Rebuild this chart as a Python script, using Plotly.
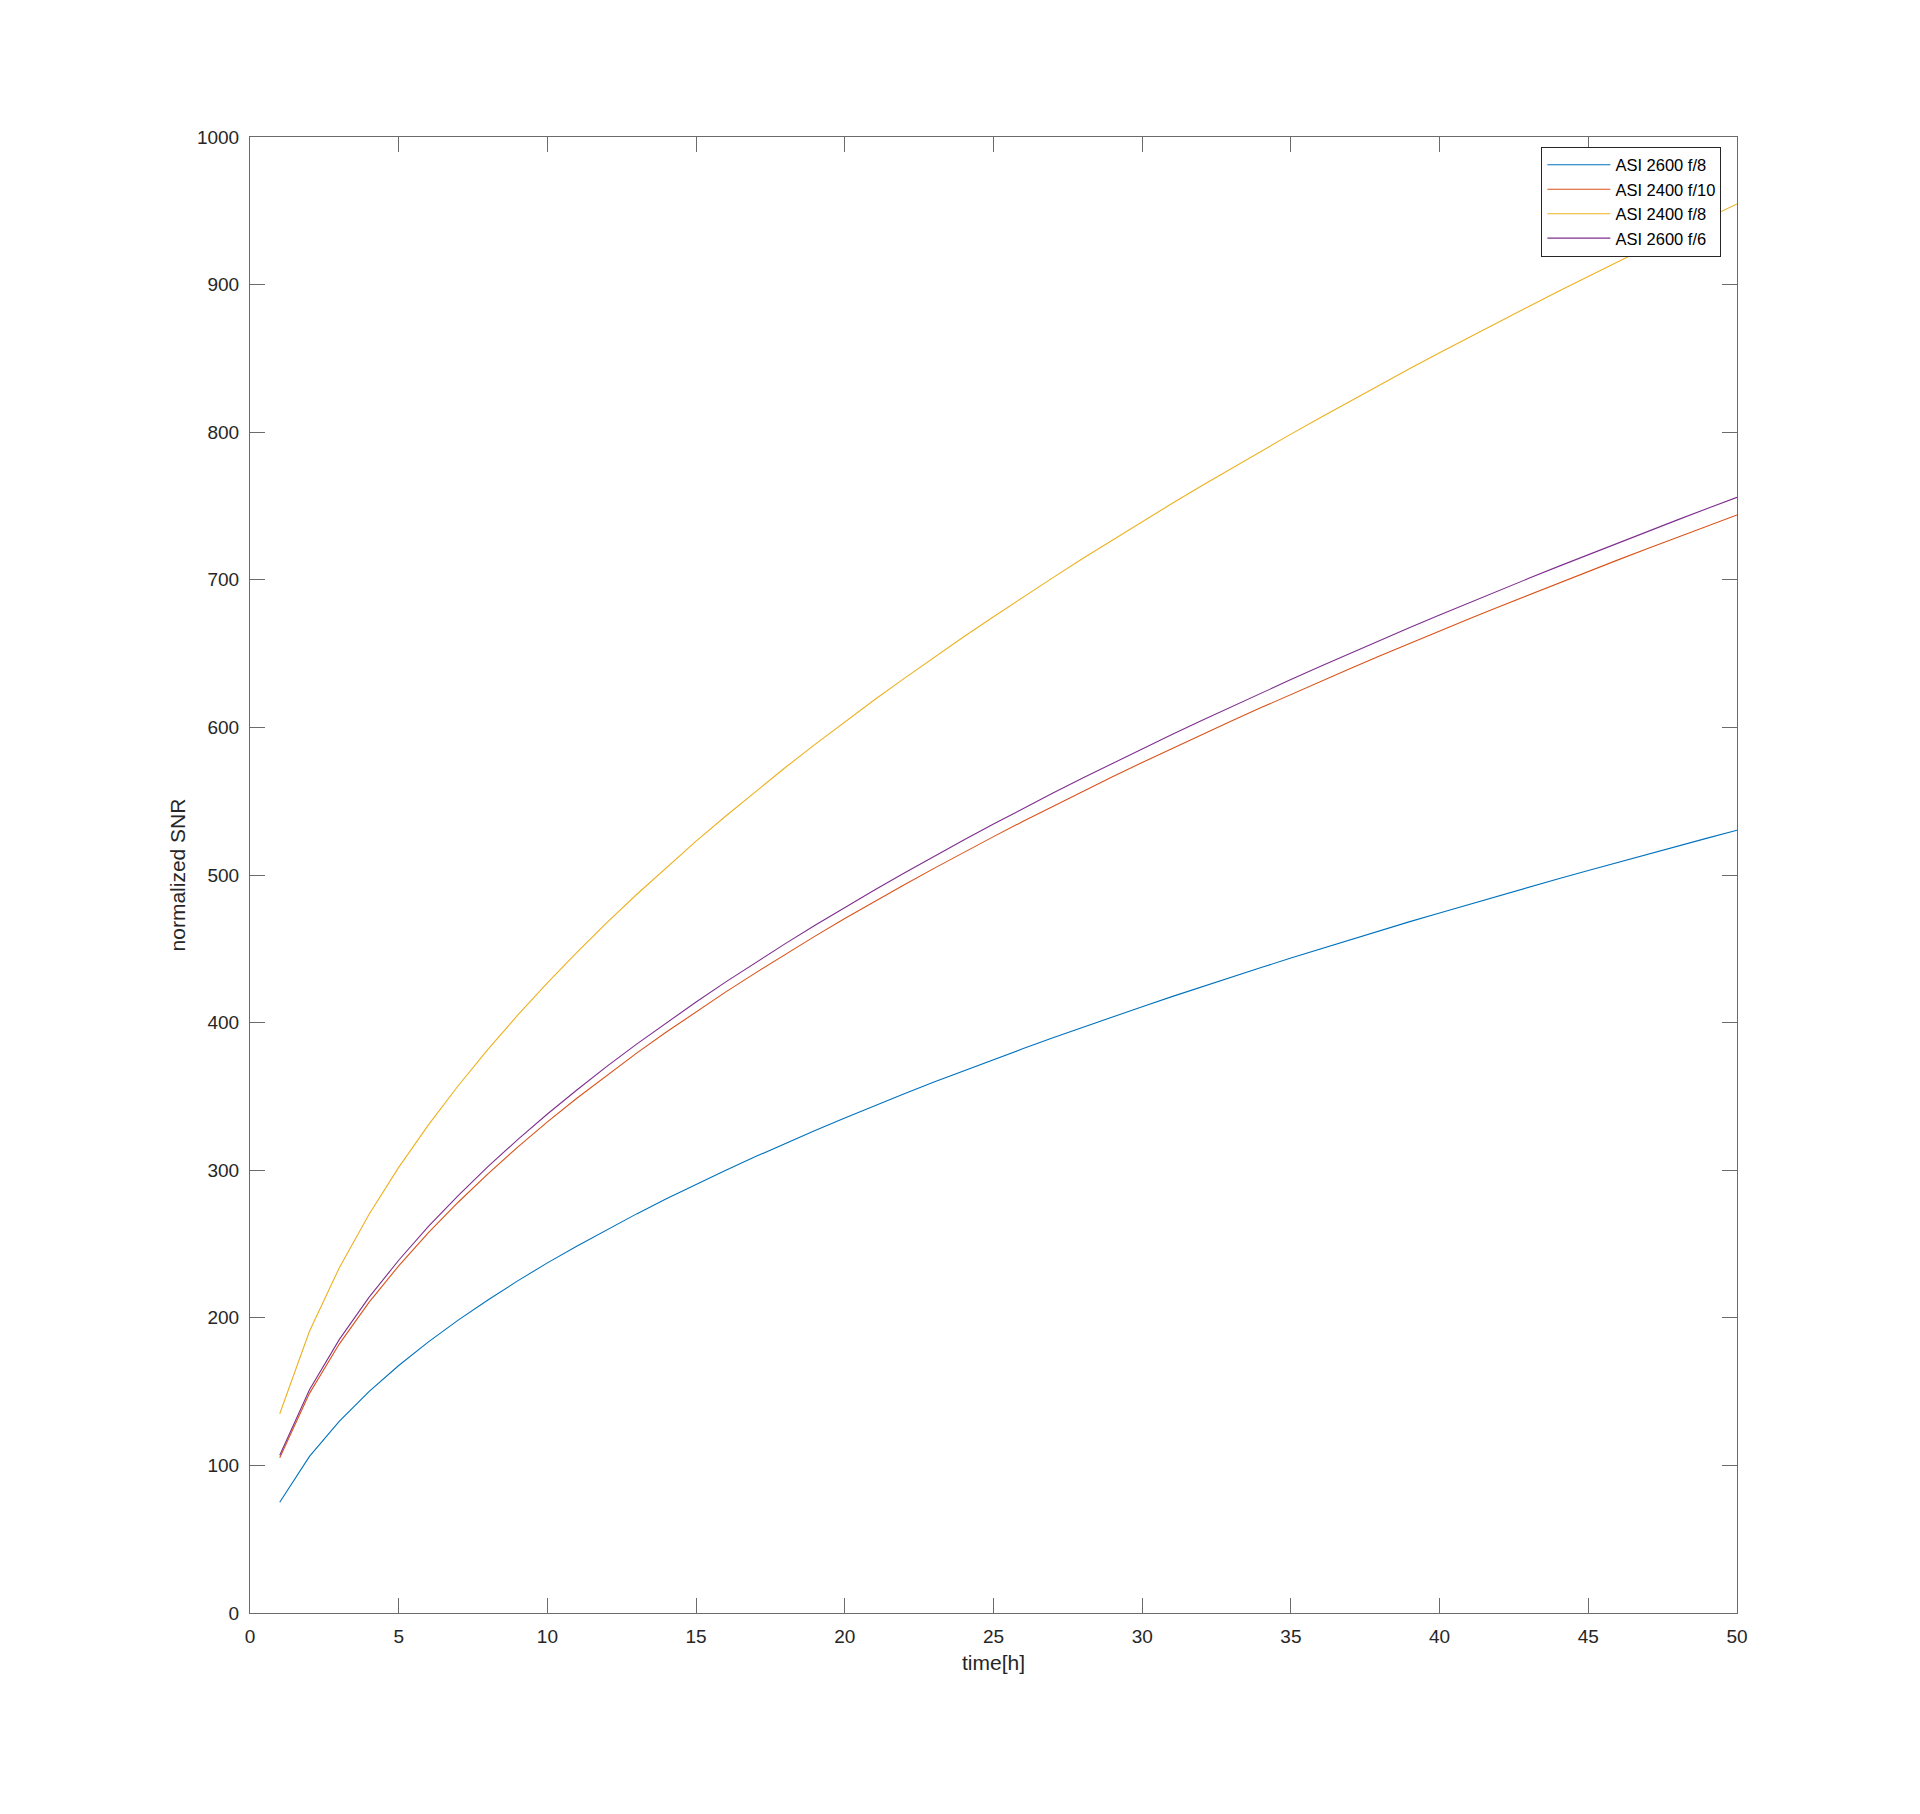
import plotly.graph_objects as go

time_h = list(range(1, 51))

asi2600_f8 = [75, 106.1, 129.9, 150, 167.7, 183.7, 198.4, 212.1, 225, 237.2,
              248.7, 259.8, 270.4, 280.6, 290.5, 300, 309.2, 318.2, 326.9, 335.4,
              343.7, 351.8, 359.7, 367.4, 375, 382.4, 389.7, 396.9, 403.9, 410.8,
              417.6, 424.3, 430.8, 437.3, 443.7, 450, 456.2, 462.3, 468.4, 474.3,
              480.2, 486.1, 491.8, 497.5, 503.1, 508.7, 514.2, 519.6, 525, 530.3]

asi2400_f10 = [105.2, 148.8, 182.2, 210.4, 235.2, 257.7, 278.3, 297.5, 315.6, 332.7,
               348.9, 364.4, 379.3, 393.6, 407.4, 420.8, 433.7, 446.3, 458.6, 470.5,
               482.1, 493.4, 504.5, 515.4, 526, 536.4, 546.6, 556.7, 566.5, 576.2,
               585.7, 595.1, 604.3, 613.4, 622.4, 631.2, 639.9, 648.5, 657.0, 665.3,
               673.6, 681.8, 689.8, 697.8, 705.7, 713.5, 721.2, 728.8, 736.4, 743.9]

asi2400_f8 = [135, 190.9, 233.8, 270, 301.9, 330.7, 357.2, 381.8, 405, 426.9,
              447.7, 467.7, 486.8, 505.1, 522.9, 540, 556.6, 572.8, 588.5, 603.7,
              618.7, 633.2, 647.4, 661.4, 675, 688.4, 701.5, 714.4, 727.0, 739.4,
              751.7, 763.7, 775.5, 787.2, 798.7, 810, 821.2, 832.2, 843.1, 853.8,
              864.4, 874.9, 885.2, 895.5, 905.6, 915.6, 925.5, 935.3, 945, 954.6]

asi2600_f6 = [106.9, 151.2, 185.2, 213.8, 239.0, 261.9, 282.8, 302.4, 320.7, 338.1,
              354.5, 370.3, 385.4, 400.0, 414.0, 427.6, 440.8, 453.5, 466.0, 478.1,
              489.9, 501.4, 512.7, 523.7, 534.5, 545.1, 555.5, 565.7, 575.7, 585.5,
              595.2, 604.7, 614.1, 623.3, 632.4, 641.4, 650.3, 659.0, 667.6, 676.1,
              684.5, 692.8, 701.0, 709.1, 717.1, 725.0, 732.9, 740.6, 748.3, 755.9]

series_names = ["ASI 2600 f/8", "ASI 2400 f/10", "ASI 2400 f/8", "ASI 2600 f/6"]
series_values = [asi2600_f8, asi2400_f10, asi2400_f8, asi2600_f6]
series_colors = ["#0072BD", "#D95319", "#EDB120", "#7E2F8E"]

x_ticks = list(range(0, 51, 5))
y_ticks = list(range(0, 1001, 100))

fig = go.Figure()
for name, vals, col in zip(series_names, series_values, series_colors):
    fig.add_trace(go.Scatter(x=time_h, y=vals, mode="lines", name=name,
                             line=dict(color=col, width=1.1)))

font_family = "Liberation Sans, Arial, sans-serif"
axis_common = dict(
    showline=True, linecolor="#6b6b6b", linewidth=1, mirror="ticks",
    ticks="inside", ticklen=15, tickcolor="#6b6b6b", tickwidth=1,
    showgrid=False, zeroline=False,
    tickfont=dict(family=font_family, size=19, color="#262626"),
)

fig.update_layout(
    width=1920, height=1814,
    paper_bgcolor="white", plot_bgcolor="white",
    margin=dict(l=242, r=191, t=129, b=209),
    showlegend=True,
    legend=dict(
        x=0.9895, y=0.9935, xanchor="right", yanchor="top",
        bordercolor="#262626", borderwidth=1, bgcolor="white",
        font=dict(family=font_family, size=16.5, color="#000000"),
        itemwidth=63, tracegroupgap=0,
    ),
    xaxis=dict(range=[0, 50], tickvals=x_ticks,
               title=dict(text="time[h]", standoff=9,
                          font=dict(family=font_family, size=21, color="#262626")),
               ticklabelstandoff=6,
               **axis_common),
    yaxis=dict(range=[0, 1000], tickvals=y_ticks,
               title=dict(text="normalized SNR", standoff=5,
                          font=dict(family=font_family, size=21, color="#262626")),
               ticklabelstandoff=6,
               **axis_common),
)

fig.write_html("out.html")
